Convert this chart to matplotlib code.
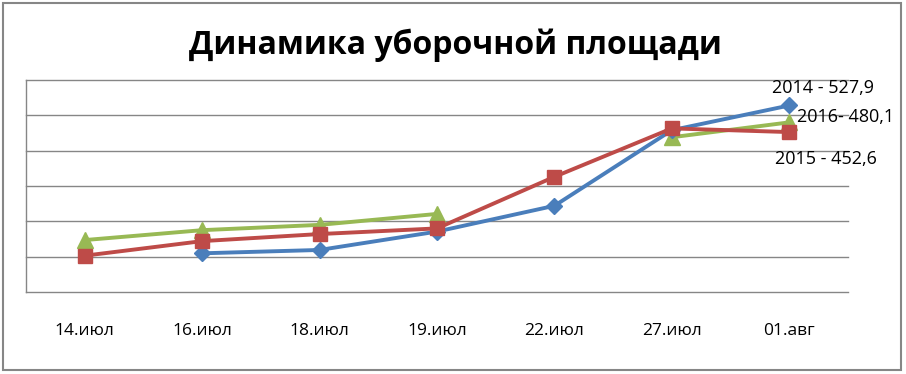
import matplotlib
matplotlib.use("Agg")
import matplotlib.pyplot as plt
import numpy as np
from matplotlib.patches import Rectangle

categories = ["14.июл", "16.июл", "18.июл", "19.июл", "22.июл", "27.июл", "01.авг"]
s2014 = [np.nan, 109.5, 119, 171, 244, 458, 527.9]
s2015 = [102.8, 144, 164, 180, 326, 463, 452.6]
s2016 = [147, 175, 190, 221, np.nan, 438, 480.1]
labels = ["2014 - 527,9", "2015 - 452,6", "2016- 480,1"]
title = "Динамика уборочной площади"
yticks = [0, 100, 200, 300, 400, 500, 600]

plt.rcParams['font.family'] = ['Open Sans', 'DejaVu Sans']

W, H = 906, 374
fig = plt.figure(figsize=(W / 100, H / 100), dpi=100)
fig.patch.set_facecolor("white")

# outer frame
fig.add_artist(Rectangle((3 / W, 1 - 370 / H), 898 / W, 367 / H, transform=fig.transFigure,
                         fill=False, edgecolor="#868686", linewidth=1.5))

left, right, top, bottom = 26, 848, 80, 292
ax = fig.add_axes([left / W, 1 - bottom / H, (right - left) / W, (bottom - top) / H])
x = np.arange(len(categories))

gc = "#868686"
for v in yticks:
    ax.axhline(v, color=gc, linewidth=1.0, zorder=1, clip_on=False)
for sp in ["top", "right", "bottom"]:
    ax.spines[sp].set_visible(False)
ax.spines["left"].set_color(gc)
ax.spines["left"].set_linewidth(1.0)

lw = 2.8
ax.plot(x, s2014, color="#4A7EBB", linewidth=lw, marker="D", markersize=8, zorder=3)
ax.plot(x, s2015, color="#BE4B48", linewidth=lw, marker="s", markersize=10, zorder=4)
ax.plot(x, s2016, color="#98B954", linewidth=lw, marker="^", markersize=11, zorder=2)

ax.set_xlim(-0.5, len(categories) - 0.5)
ax.set_ylim(0, 600)
ax.set_yticks([])
ax.set_xticks(x)
ax.set_xticklabels(categories, fontsize=12.5)
ax.tick_params(axis="x", length=0, pad=22)

# data labels
fs = 13
ax.annotate(labels[0], (x[-1], s2014[-1]), xytext=(34, 17), textcoords="offset pixels",
            ha="center", va="center", fontsize=fs)
ax.annotate(labels[2], (x[-1], s2016[-1]), xytext=(8, 5), textcoords="offset pixels",
            ha="left", va="center", fontsize=fs)
ax.annotate(labels[1], (x[-1], s2015[-1]), xytext=(37, -27), textcoords="offset pixels",
            ha="center", va="center", fontsize=fs)

fig.text(455 / W, 1 - 45 / H, title, ha="center", va="center", fontsize=23,
         fontweight="bold")

fig.savefig("out.png", dpi=100, facecolor="white")
